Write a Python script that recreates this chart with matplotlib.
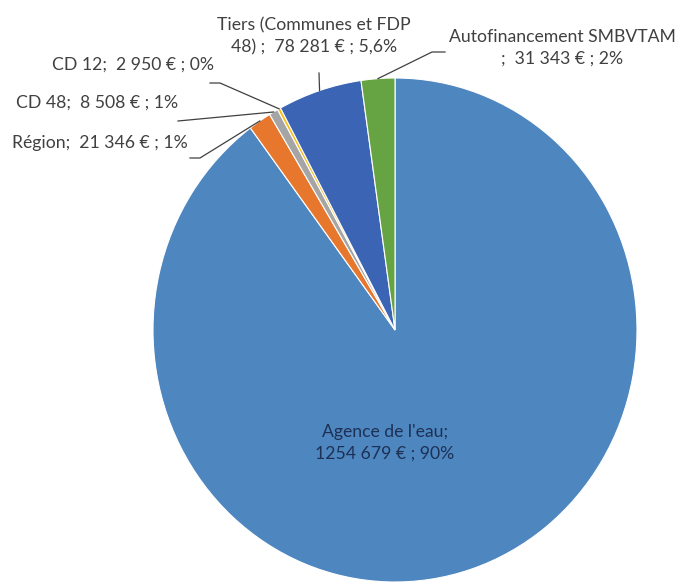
import numpy as np
import matplotlib.pyplot as plt

# data
labels = ["Agence de l'eau", "Région", "CD 48", "CD 12",
          "Tiers (Communes et FDP 48)", "Autofinancement SMBVTAM"]
montants = [1254679, 21346, 8508, 2950, 78281, 31343]
textes = ["Agence de l'eau;\n1254 679 € ; 90%",
          "Région;  21 346 € ; 1%",
          "CD 48;  8 508 € ; 1%",
          "CD 12;  2 950 € ; 0%",
          "Tiers (Communes et FDP\n48) ;  78 281 € ; 5,6%",
          "Autofinancement SMBVTAM\n;  31 343 € ; 2%"]
couleurs = ["#4E86BF", "#E8772E", "#A5A5A5", "#F5BE1E", "#3B64B4", "#66A342"]

plt.rcParams['font.family'] = ['Lato', 'DejaVu Sans']

W, H = 686, 586
fig = plt.figure(figsize=(W / 100, H / 100), dpi=100)

# pie geometry in pixels (slightly taller than wide, like the source)
cx, cy, rx, ry = 395, 330, 242, 252
ax = fig.add_axes([(cx - rx) / W, (H - cy - ry) / H, 2 * rx / W, 2 * ry / H])
wedges, _ = ax.pie(montants, colors=couleurs, startangle=90, counterclock=False,
                   radius=1, wedgeprops=dict(edgecolor='white', linewidth=0.8))
ax.set_aspect('auto')
ax.set_xlim(-1, 1)
ax.set_ylim(-1, 1)
ax.axis('off')

# overlay in pixel coordinates for labels and leader lines
ov = fig.add_axes([0, 0, 1, 1])
ov.set_xlim(0, W)
ov.set_ylim(H, 0)
ov.axis('off')

def ancre(w):
    t = np.deg2rad((w.theta1 + w.theta2) / 2)
    return cx + rx * np.cos(t), cy - ry * np.sin(t)

txtcol = '#404040'
linecol = '#404040'
fs = 12.7
ls = 1.45

# Agence de l'eau (inside)
ov.text(385, 443, textes[0], ha='center', va='center', fontsize=fs,
        color='#1d3156', linespacing=ls)

# leader end points and label placement
fins = {1: [(200, 158), (190, 158)],
        2: [(178, 121)],
        3: [(220, 83), (210, 83)],
        4: [(319, 73)],
        5: [(432, 52), (445, 52)]}
for i, pts in fins.items():
    x0, y0 = ancre(wedges[i])
    xs = [x0] + [p[0] for p in pts]
    ys = [y0] + [p[1] for p in pts]
    ov.plot(xs, ys, color=linecol, lw=0.9)

ov.text(12, 143, textes[1], ha='left', va='center', fontsize=fs, color=txtcol)
ov.text(16, 103, textes[2], ha='left', va='center', fontsize=fs, color=txtcol)
ov.text(52, 65, textes[3], ha='left', va='center', fontsize=fs, color=txtcol)
ov.text(314, 36, textes[4], ha='center', va='center', fontsize=fs,
        color=txtcol, linespacing=ls)
ov.text(562, 48, textes[5], ha='center', va='center', fontsize=fs,
        color=txtcol, linespacing=ls)

fig.savefig('out.png', dpi=100)
